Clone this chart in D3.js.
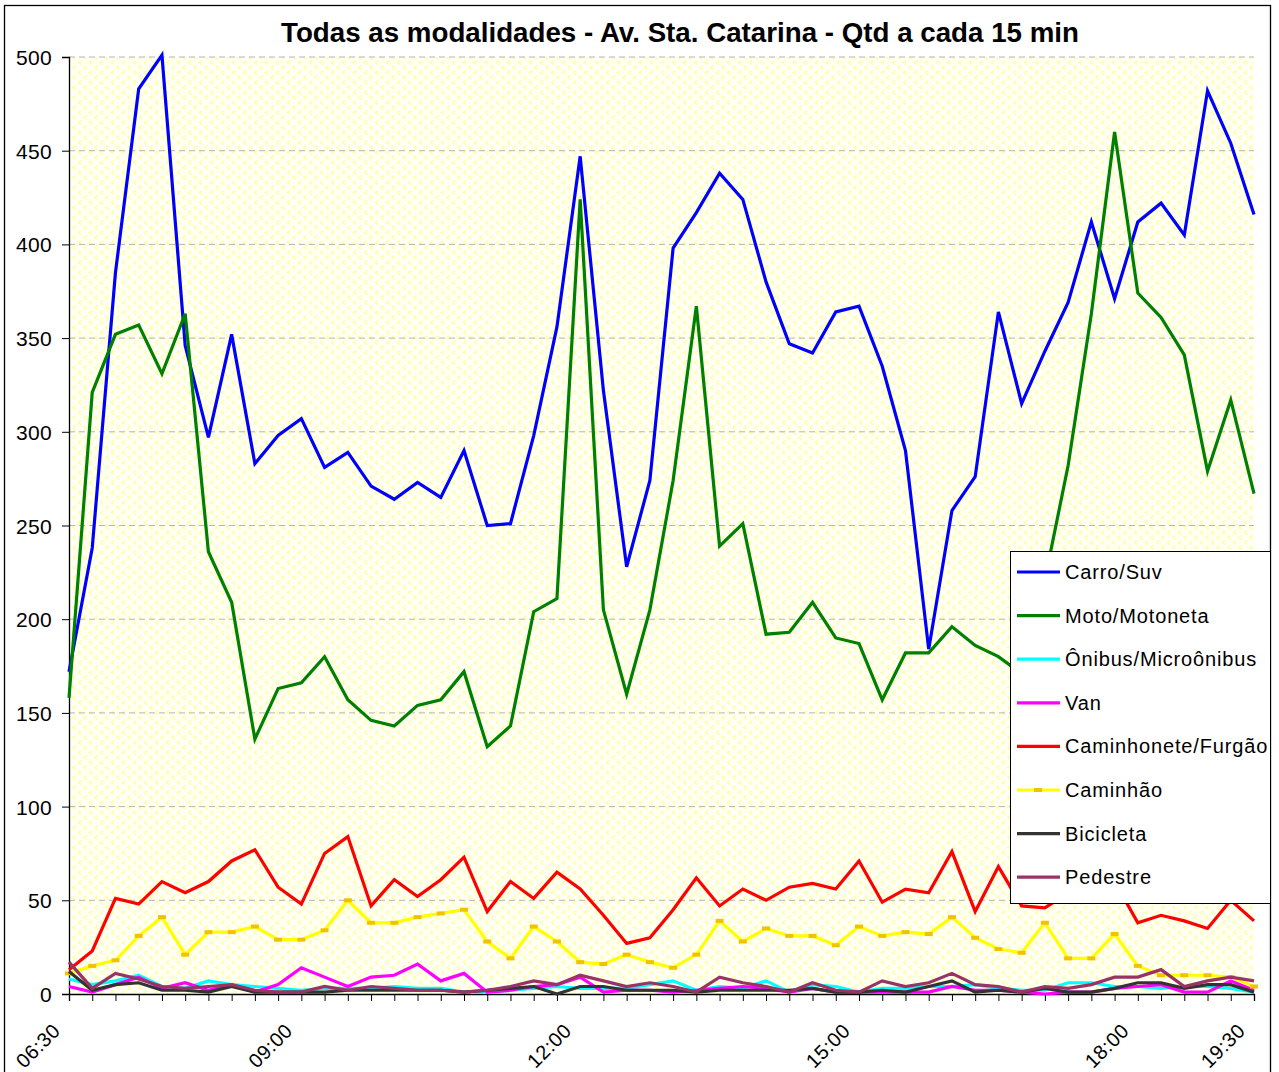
<!DOCTYPE html>
<html>
<head>
<meta charset="utf-8">
<script src="https://cdn.jsdelivr.net/npm/d3@7"></script>
<style>
  body { margin: 0; background: #fff; }
  svg { display: block; font-family: "Liberation Sans", Arial, sans-serif; }
</style>
</head>
<body>
<svg id="vis-container"></svg>
<script>
const WIDTH = 1279
const HEIGHT = 1072
const PLOT = { left: 69, right: 1254, top: 57, bottom: 994 }
const CONTAINER = d3.select("#vis-container")

const TITLE = "Todas as modalidades - Av. Sta. Catarina - Qtd a cada 15 min"

// 15 min slots (the source sheet jumps from 19:00 to 19:30)
const categories = [
    "06:30", "06:45", "07:00", "07:15", "07:30", "07:45", "08:00", "08:15", "08:30", "08:45",
    "09:00", "09:15", "09:30", "09:45", "10:00", "10:15", "10:30", "10:45", "11:00", "11:15", "11:30", "11:45",
    "12:00", "12:15", "12:30", "12:45", "13:00", "13:15", "13:30", "13:45", "14:00", "14:15", "14:30", "14:45",
    "15:00", "15:15", "15:30", "15:45", "16:00", "16:15", "16:30", "16:45", "17:00", "17:15", "17:30", "17:45",
    "18:00", "18:15", "18:30", "18:45", "19:00", "19:30"
]
const tickLabels = ["06:30", "09:00", "12:00", "15:00", "18:00", "19:30"]
const yTicks = [0, 50, 100, 150, 200, 250, 300, 350, 400, 450, 500]

const seriesNames = ["Carro/Suv", "Moto/Motoneta", "Ônibus/Microônibus", "Van",
    "Caminhonete/Furgão", "Caminhão", "Bicicleta", "Pedestre"]

const carro = [172, 238, 385, 483, 501, 346, 297, 352, 283, 298, 307, 281, 289, 271, 264, 273, 265, 290, 250, 251,
    298, 356, 447, 322, 228, 274, 398, 417, 438, 424, 380, 347, 342, 364, 367, 335, 290, 184, 258, 276,
    364, 315, 343, 369, 412, 371, 412, 422, 405, 482, 454, 416]
const moto = [158, 321, 352, 357, 331, 363, 236, 209, 136, 163, 166, 180, 157, 146, 143, 154, 157, 172, 132, 143,
    204, 211, 424, 205, 160, 205, 274, 367, 239, 251, 192, 193, 209, 190, 187, 157, 182, 182, 196, 186,
    180, 171, 221, 282, 363, 460, 374, 361, 341, 279, 317, 267]
const onibus = [8, 5, 7, 10, 4, 3, 7, 5, 4, 3, 2, 3, 3, 3, 4, 3, 3, 1, 1, 2, 3, 4, 3, 3, 3,
    5, 7, 2, 4, 3, 7, 1, 5, 4, 1, 3, 3, 4, 4, 5, 3, 2, 2, 6, 6, 4, 4, 3, 4, 4, 3, 1]
const van = [4, 1, 5, 9, 3, 6, 2, 5, 1, 5, 14, 9, 4, 9, 10, 16, 7, 11, 1, 2, 4, 5, 9, 1, 2,
    2, 1, 2, 3, 4, 3, 1, 3, 1, 1, 1, 1, 1, 4, 2, 2, 1, 0, 1, 1, 3, 4, 5, 1, 1, 7, 2]
const caminhonete = [13, 23, 51, 48, 60, 54, 60, 71, 77, 57, 48, 75, 84, 47, 61, 52, 61, 73, 44, 60, 51, 65, 56, 42, 27,
    30, 45, 62, 47, 56, 50, 57, 59, 56, 71, 49, 56, 54, 76, 44, 68, 47, 46, 54, 57, 60, 38, 42, 39, 35, 50, 39]
const caminhao = [11, 15, 18, 31, 41, 21, 33, 33, 36, 29, 29, 34, 50, 38, 38, 41, 43, 45, 28, 19, 36, 28, 17, 16, 21,
    17, 14, 21, 39, 28, 35, 31, 31, 26, 36, 31, 33, 32, 41, 30, 24, 22, 38, 19, 19, 32, 15, 10, 10, 10, 9, 4]
const bicicleta = [12, 2, 5, 6, 2, 2, 1, 4, 1, 1, 1, 1, 2, 2, 2, 2, 2, 1, 2, 3, 4, 0, 4, 4, 2,
    2, 2, 1, 2, 2, 2, 2, 3, 1, 1, 2, 1, 4, 7, 1, 2, 1, 3, 1, 1, 3, 6, 6, 3, 5, 5, 1]
const pedestre = [17, 3, 11, 8, 4, 3, 4, 5, 2, 1, 1, 4, 2, 4, 3, 2, 2, 1, 2, 4, 7, 5, 10, 7, 4,
    6, 4, 1, 9, 6, 4, 1, 6, 2, 1, 7, 4, 6, 11, 5, 4, 1, 4, 3, 5, 9, 9, 13, 4, 7, 9, 7]

const seriesValues = [carro, moto, onibus, van, caminhonete, caminhao, bicicleta, pedestre]
const seriesColors = ["#0000ff", "#008000", "#00ffff", "#ff00ff", "#ff0000", "#ffff00", "#333333", "#993366"]

const x = d3.scalePoint().domain(categories).range([PLOT.left, PLOT.right])
const y = d3.scaleLinear().domain([0, 500]).range([PLOT.bottom, PLOT.top])

initVisualization()

function initVisualization() {
    CONTAINER.attr('width', WIDTH).attr('height', HEIGHT)

    CONTAINER.append('rect')
        .attr('width', WIDTH).attr('height', HEIGHT)
        .attr('fill', '#fff')

    // outer chart frame (bottom edge falls outside the picture)
    CONTAINER.append('rect')
        .attr('x', 4.5).attr('y', 5.5)
        .attr('width', 1266).attr('height', 1080)
        .attr('fill', 'none')
        .attr('stroke', '#000')
        .attr('stroke-width', 1.3)

    drawPlotBackground()
    drawAxes()
    drawSeries()
    drawLegend()

    CONTAINER.append('text')
        .attr('x', 680).attr('y', 42)
        .attr('text-anchor', 'middle')
        .attr('textLength', 798)
        .attr('lengthAdjust', 'spacingAndGlyphs')
        .style('font-size', '27px')
        .style('font-weight', 'bold')
        .text(TITLE)
}

function drawPlotBackground() {
    const defs = CONTAINER.append('defs')
    const pattern = defs.append('pattern')
        .attr('id', 'chevrons')
        .attr('patternUnits', 'userSpaceOnUse')
        .attr('width', 11).attr('height', 10)

    pattern.append('rect').attr('width', 11).attr('height', 10).attr('fill', '#fffff4')
    pattern.append('path')
        .attr('d', 'M4,0.5 L1.5,2.5 L4,4.5 M9.5,5.5 L7,7.5 L9.5,9.5')
        .attr('fill', 'none')
        .attr('stroke', '#ffff9a')
        .attr('stroke-width', 1.3)

    CONTAINER.append('rect')
        .attr('x', PLOT.left).attr('y', PLOT.top)
        .attr('width', PLOT.right - PLOT.left)
        .attr('height', PLOT.bottom - PLOT.top)
        .attr('fill', 'url(#chevrons)')

    CONTAINER.append('g').attr('class', 'grid')
        .selectAll('line')
        .data(yTicks.filter(d => d > 0))
        .join('line')
        .attr('x1', PLOT.left).attr('x2', PLOT.right)
        .attr('y1', d => y(d)).attr('y2', d => y(d))
        .attr('stroke', '#b4b4b4')
        .attr('stroke-width', 1)
        .attr('stroke-dasharray', '6,4')
}

function drawAxes() {
    const yAxis = CONTAINER.append('g')
        .attr('transform', `translate(${PLOT.left},0)`)
        .call(d3.axisLeft(y).tickValues(yTicks).tickSize(7).tickPadding(10))
    yAxis.select('.domain').attr('stroke', '#000').attr('stroke-width', 1.3)
    yAxis.selectAll('.tick line').attr('stroke', '#000')
    yAxis.selectAll('.tick text')
        .attr('dy', '0.36em')
        .style('font-size', '21px')
        .style('letter-spacing', '0.3px')
        .style('font-family', '"Liberation Sans", Arial, sans-serif')
        .attr('fill', '#000')

    const xAxis = CONTAINER.append('g')
        .attr('transform', `translate(0,${PLOT.bottom})`)
        .call(d3.axisBottom(x).tickSize(7).tickFormat(d => tickLabels.includes(d) ? d : ''))
    xAxis.select('.domain').attr('stroke', '#000').attr('stroke-width', 1.3)
    xAxis.selectAll('.tick line').attr('stroke', '#000')
    xAxis.selectAll('.tick text')
        .attr('text-anchor', 'end')
        .attr('dy', null)
        .attr('y', 0)
        .attr('transform', 'translate(-8,38) rotate(-45)')
        .style('font-size', '20px')
        .style('letter-spacing', '0.5px')
        .style('font-family', '"Liberation Sans", Arial, sans-serif')
        .attr('fill', '#000')
}

function drawSeries() {
    const line = d3.line()
        .x((d, i) => x(categories[i]))
        .y(d => y(d))

    const g = CONTAINER.append('g').attr('class', 'series')
    seriesValues.forEach((values, k) => {
        g.append('path')
            .datum(values)
            .attr('d', line)
            .attr('fill', 'none')
            .attr('stroke', seriesColors[k])
            .attr('stroke-width', 3.2)
            .attr('stroke-linejoin', 'miter')

        // Caminhão carries small dash markers
        if (seriesNames[k] === 'Caminhão') {
            g.append('g').selectAll('rect')
                .data(values)
                .join('rect')
                .attr('x', (d, i) => x(categories[i]) - 4)
                .attr('y', d => y(d) - 2)
                .attr('width', 8).attr('height', 4)
                .attr('fill', '#f2c200')
        }
    })
}

function drawLegend() {
    const legend = CONTAINER.append('g').attr('class', 'legend')
    legend.append('rect')
        .attr('x', 1010.5).attr('y', 551.5)
        .attr('width', 260).attr('height', 352)
        .attr('fill', '#fff')
        .attr('stroke', '#000')
        .attr('stroke-width', 1)

    const rows = legend.selectAll('g.item')
        .data(seriesNames)
        .join('g')
        .attr('class', 'item')
        .attr('transform', (d, i) => `translate(0,${572 + i * 43.6})`)

    rows.append('line')
        .attr('x1', 1017).attr('x2', 1060)
        .attr('stroke', (d, i) => seriesColors[i])
        .attr('stroke-width', 3.2)

    rows.filter(d => d === 'Caminhão')
        .append('rect')
        .attr('x', 1034).attr('y', -2)
        .attr('width', 8).attr('height', 4)
        .attr('fill', '#f2c200')

    rows.append('text')
        .attr('x', 1065).attr('y', 7)
        .style('font-size', '20px')
        .style('letter-spacing', '0.85px')
        .text(d => d)
}
</script>
</body>
</html>
